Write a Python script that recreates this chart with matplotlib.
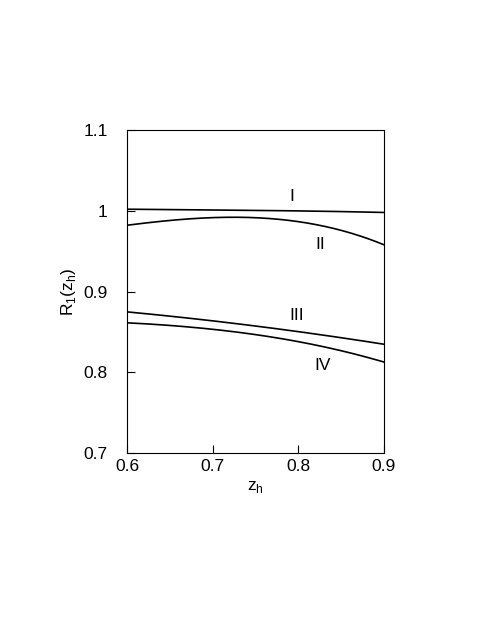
import numpy as np
import matplotlib
matplotlib.use("Agg")
import matplotlib.pyplot as plt

# values
z_h = [0.6, 0.65, 0.7, 0.75, 0.8, 0.85, 0.9]
curve_I = [1.002, 1.0015, 1.001, 1.0005, 1.000, 0.999, 0.998]
curve_II = [0.982, 0.9885, 0.9918, 0.9905, 0.9872, 0.976, 0.958]
curve_III = [0.875, 0.8695, 0.864, 0.8575, 0.8505, 0.843, 0.835]
curve_IV = [0.8615, 0.858, 0.8535, 0.847, 0.838, 0.827, 0.813]

labels = ["I", "II", "III", "IV"]
label_pos = [(0.793, 1.018), (0.8255, 0.958), (0.798, 0.870), (0.829, 0.809)]

xticks = [0.6, 0.7, 0.8, 0.9]
yticks = [0.7, 0.8, 0.9, 1.0, 1.1]
yticklabels = ["0.7", "0.8", "0.9", "1", "1.1"]


def smooth(x, y):
    # cubic fit through the read points for a clean curve
    xs = np.linspace(min(x), max(x), 200)
    coef = np.polyfit(x, y, 3)
    return xs, np.polyval(coef, xs)


def main():
    plt.rcParams['font.family'] = ['Liberation Sans', 'DejaVu Sans']
    plt.rcParams['font.size'] = 12.5
    plt.rcParams["xtick.direction"] = "in"
    plt.rcParams["ytick.direction"] = "in"

    fig = plt.figure(figsize=(4.91, 6.35), dpi=100)
    ax = fig.add_axes([127.3 / 491, 1 - 453.3 / 635, 256.4 / 491, 323.3 / 635])

    for ys in [curve_I, curve_II, curve_III, curve_IV]:
        xs, yy = smooth(z_h, ys)
        ax.plot(xs, yy, color="k", linewidth=1.2)

    for lab, (lx, ly) in zip(labels, label_pos):
        ax.text(lx, ly, lab, ha="center", va="center", fontsize=12.5)

    ax.set_xlim(0.6, 0.9)
    ax.set_ylim(0.7, 1.1)
    ax.set_xticks(xticks)
    ax.set_xticklabels([str(t) for t in xticks])
    ax.set_yticks(yticks)
    ax.set_yticklabels(yticklabels)
    ax.tick_params(length=6, width=0.8, pad=4)
    ax.tick_params(axis="y", pad=14)
    for s in ax.spines.values():
        s.set_linewidth(0.8)

    ax.set_xlabel('z$_\\mathregular{h}$', labelpad=4)
    ax.set_ylabel('R$_\\mathregular{1}$(z$_\\mathregular{h}$)', labelpad=4)

    plt.savefig("out.png", dpi=100)
    plt.close()
    return


if __name__ == "__main__":
    main()
